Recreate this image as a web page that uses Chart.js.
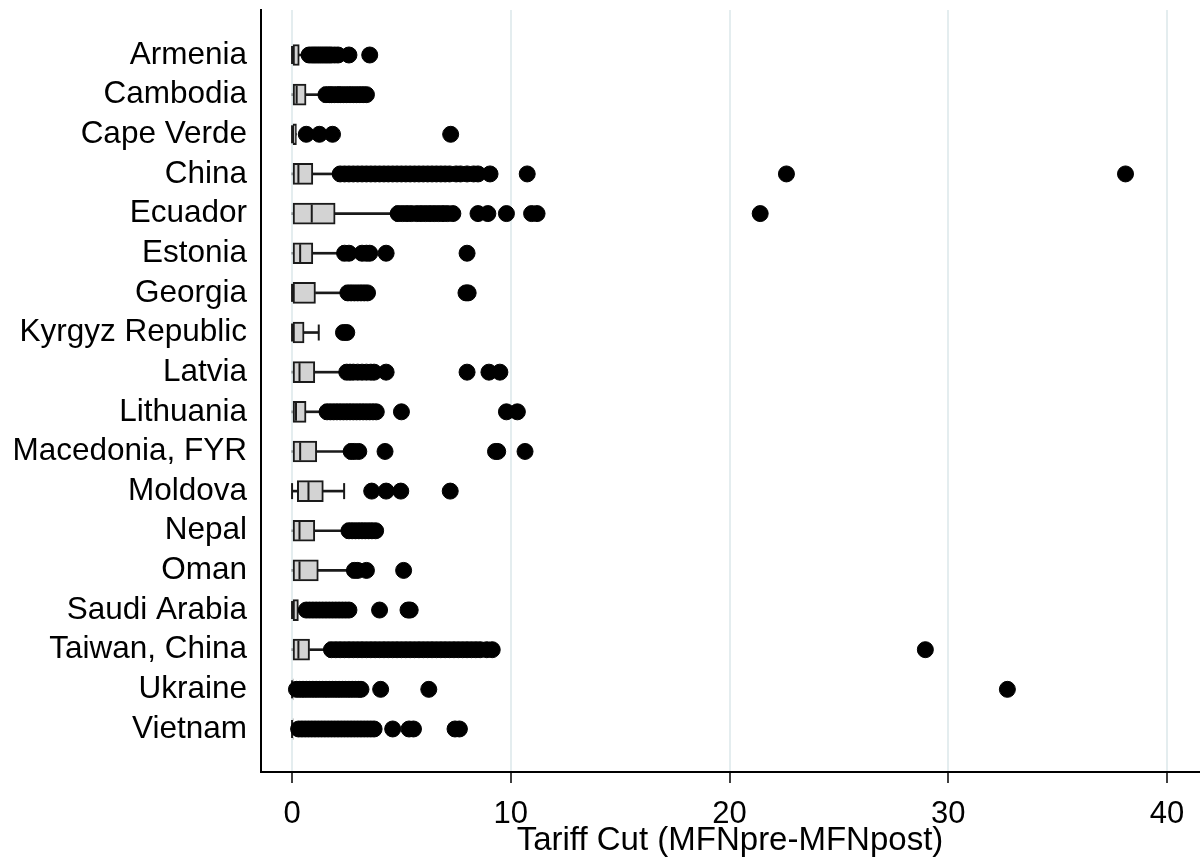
<!DOCTYPE html>
<html>
<head>
<meta charset="utf-8">
<title>Tariff Cut (MFNpre-MFNpost)</title>
<script src="https://cdn.jsdelivr.net/npm/chart.js"></script>
<style>
    html, body { margin: 0; padding: 0; background: #fff; }
    #wrap { width: 1200px; height: 861px; }
</style>
</head>
<body>
<div id="wrap"><canvas id="tariffBox"></canvas></div>
<script>
(function () {
    "use strict";

    // one row per country, top to bottom
    var countries = ['Armenia', 'Cambodia', 'Cape Verde', 'China', 'Ecuador', 'Estonia', 'Georgia',
        'Kyrgyz Republic', 'Latvia', 'Lithuania', 'Macedonia, FYR', 'Moldova', 'Nepal', 'Oman',
        'Saudi Arabia', 'Taiwan, China', 'Ukraine', 'Vietnam'];

    // box statistics
    var whiskerLo = [0, 0, 0, 0, 0, 0, 0, 0, 0, 0, 0, 0, 0, 0, 0, 0, 0, 0];
    var q1        = [0, 0, 0, 0, 0, 0, 0, 0, 0, 0, 0, 0.24, 0, 0, 0, 0, 0, 0];
    var median    = [0, 0.21, 0, 0.29, 0.9, 0.37, 0, 0, 0.34, 0.18, 0.37, 0.75, 0.34, 0.34, 0, 0.29, 0, 0];
    var q3        = [0.33, 0.64, 0.2, 0.95, 1.97, 0.95, 1.07, 0.55, 1.04, 0.64, 1.13, 1.43, 1.04, 1.2, 0.29, 0.8, 0.05, 0.05];
    var whiskerHi = [0.68, 1.45, 0.2, 2.1, 4.75, 2.3, 2.45, 1.22, 2.4, 1.5, 2.6, 2.38, 2.5, 2.75, 0.29, 1.7, 0.05, 0.05];

    // outside values
    var outliers = [
        [0.78, 0.9, 1.0, 1.1, 1.2, 1.3, 1.4, 1.5, 1.6, 1.7, 1.8, 1.95, 2.1, 2.6, 3.55],
        [1.55, 1.7, 1.8, 1.95, 2.1, 2.2, 2.35, 2.5, 2.65, 2.8, 2.95, 3.1, 3.25, 3.4],
        [0.65, 1.25, 1.85, 7.25],
        [2.2, 2.4, 2.6, 2.8, 3.0, 3.2, 3.4, 3.6, 3.8, 4.0, 4.2, 4.4, 4.6, 4.8, 5.0, 5.2, 5.4, 5.6, 5.8,
            6.0, 6.2, 6.4, 6.6, 6.8, 7.0, 7.2, 7.5, 7.7, 8.0, 8.3, 8.5, 9.05, 10.75, 22.6, 38.1],
        [4.85, 5.05, 5.25, 5.45, 5.7, 5.9, 6.1, 6.3, 6.5, 6.7, 6.9, 7.1, 7.35, 8.5, 8.95, 9.8, 10.95, 11.2, 21.4],
        [2.4, 2.6, 3.2, 3.4, 3.55, 4.3, 8.0],
        [2.55, 2.7, 2.85, 3.0, 3.15, 3.3, 3.45, 7.95, 8.05],
        [2.35, 2.5],
        [2.5, 2.65, 2.8, 3.0, 3.2, 3.4, 3.6, 3.75, 4.3, 8.0, 9.0, 9.5],
        [1.6, 1.75, 1.9, 2.05, 2.2, 2.35, 2.5, 2.65, 2.8, 2.95, 3.1, 3.25, 3.4, 3.55, 3.7, 3.85, 5.0, 9.8, 10.3],
        [2.7, 2.85, 3.05, 4.25, 9.3, 9.4, 10.65],
        [3.64, 4.3, 4.97, 7.23],
        [2.6, 2.75, 2.9, 3.05, 3.2, 3.35, 3.5, 3.65, 3.82],
        [2.85, 3.0, 3.4, 5.1],
        [0.65, 0.8, 0.95, 1.1, 1.25, 1.4, 1.55, 1.7, 1.85, 2.0, 2.15, 2.3, 2.45, 2.6, 4.0, 5.3, 5.4],
        [1.8, 2.0, 2.2, 2.4, 2.6, 2.8, 3.0, 3.2, 3.4, 3.6, 3.8, 4.0, 4.2, 4.4, 4.6, 4.8, 5.0, 5.2, 5.4,
            5.6, 5.8, 6.0, 6.2, 6.4, 6.6, 6.8, 7.0, 7.2, 7.4, 7.6, 7.8, 8.0, 8.2, 8.4, 8.6, 8.9, 9.15, 28.95],
        [0.2, 0.35, 0.5, 0.65, 0.8, 0.95, 1.1, 1.25, 1.4, 1.55, 1.7, 1.85, 2.0, 2.15, 2.3, 2.45, 2.6,
            2.75, 2.9, 3.05, 3.15, 4.05, 6.25, 32.7],
        [0.3, 0.45, 0.6, 0.75, 0.9, 1.05, 1.2, 1.35, 1.5, 1.65, 1.8, 1.95, 2.1, 2.25, 2.4, 2.55, 2.7,
            2.85, 3.0, 3.15, 3.3, 3.45, 3.6, 3.75, 4.6, 5.35, 5.55, 7.45, 7.65]
    ];

    var xTicks = [0, 10, 20, 30, 40];

    var FONT = '"Liberation Sans", Arial, Helvetica, sans-serif';
    var BOX_FILL = '#d3d3d3';
    var INK = '#1a1a1a';

    // row position on the y scale: 1 = first country
    function rowOf(i) { return i + 1; }

    var boxes = countries.map(function (c, i) { return { x: [q1[i], q3[i]], y: rowOf(i) }; });
    var upperWhiskers = countries.map(function (c, i) { return { x: [q3[i], whiskerHi[i]], y: rowOf(i) }; });
    var lowerWhiskers = countries.map(function (c, i) { return { x: [whiskerLo[i], q1[i]], y: rowOf(i) }; });
    var medians = countries.map(function (c, i) { return { x: median[i], y: rowOf(i) }; });

    // caps only where a whisker actually sticks out of the box
    var caps = [];
    countries.forEach(function (c, i) {
        if (whiskerHi[i] > q3[i]) caps.push({ x: whiskerHi[i], y: rowOf(i) });
        if (whiskerLo[i] < q1[i]) caps.push({ x: whiskerLo[i], y: rowOf(i) });
    });

    var dots = [];
    outliers.forEach(function (list, i) {
        list.forEach(function (v) { dots.push({ x: v, y: rowOf(i) }); });
    });

    new Chart(document.getElementById('tariffBox'), {
        type: 'bar',
        data: {
            datasets: [{
                type: 'scatter',
                label: 'outside values',
                data: dots,
                pointRadius: 8,
                pointBackgroundColor: '#000',
                pointBorderColor: '#000',
                pointBorderWidth: 1,
                order: 0
            }, {
                type: 'scatter',
                label: 'median',
                data: medians,
                pointStyle: 'line',
                rotation: 90,
                pointRadius: 9,
                pointBorderColor: INK,
                pointBorderWidth: 2,
                order: 1
            }, {
                label: 'box',
                data: boxes,
                grouped: false,
                barThickness: 21,
                backgroundColor: BOX_FILL,
                borderColor: INK,
                borderWidth: 2,
                borderSkipped: false,
                order: 2
            }, {
                type: 'scatter',
                label: 'caps',
                data: caps,
                pointStyle: 'line',
                rotation: 90,
                pointRadius: 8,
                pointBorderColor: INK,
                pointBorderWidth: 2,
                order: 3
            }, {
                label: 'upper whisker',
                data: upperWhiskers,
                grouped: false,
                barThickness: 2,
                backgroundColor: INK,
                borderWidth: 0,
                order: 4
            }, {
                label: 'lower whisker',
                data: lowerWhiskers,
                grouped: false,
                barThickness: 2,
                backgroundColor: INK,
                borderWidth: 0,
                order: 5
            }]
        },
        options: {
            indexAxis: 'y',
            responsive: true,
            maintainAspectRatio: false,
            animation: false,
            events: [],
            layout: {
                autoPadding: false,
                padding: { top: 10, right: 1, bottom: 0, left: 0 }
            },
            plugins: {
                legend: { display: false },
                tooltip: { enabled: false }
            },
            scales: {
                x: {
                    type: 'linear',
                    min: -1.42,
                    max: 41.46,
                    offset: false,
                    afterBuildTicks: function (scale) {
                        scale.ticks = xTicks.map(function (v) { return { value: v }; });
                    },
                    afterFit: function (scale) {
                        scale.height = 89;
                        scale.paddingLeft = 0;
                        scale.paddingRight = 0;
                    },
                    grid: {
                        color: '#e4edef',
                        lineWidth: 2,
                        tickColor: '#000',
                        tickLength: 11,
                        tickWidth: 1.5
                    },
                    border: { display: true, color: '#000', width: 2 },
                    ticks: {
                        padding: 13,
                        color: '#000',
                        font: { family: FONT, size: 31 },
                        maxRotation: 0
                    },
                    title: {
                        display: true,
                        text: 'Tariff Cut (MFNpre-MFNpost)',
                        color: '#000',
                        font: { family: FONT, size: 33 },
                        padding: { top: 0, bottom: 0 }
                    }
                },
                y: {
                    type: 'linear',
                    reverse: true,
                    min: -0.135,
                    max: 19.085,
                    offset: false,
                    afterBuildTicks: function (scale) {
                        scale.ticks = countries.map(function (c, i) { return { value: rowOf(i) }; });
                    },
                    afterFit: function (scale) {
                        scale.width = 261;
                        scale.paddingTop = 0;
                        scale.paddingBottom = 0;
                    },
                    grid: { display: false, drawTicks: false, tickLength: 0 },
                    border: { display: true, color: '#000', width: 2 },
                    ticks: {
                        padding: 14,
                        color: '#000',
                        font: { family: FONT, size: 31.5 },
                        callback: function (value) { return countries[value - 1]; }
                    }
                }
            }
        }
    });
})();
</script>
</body>
</html>
